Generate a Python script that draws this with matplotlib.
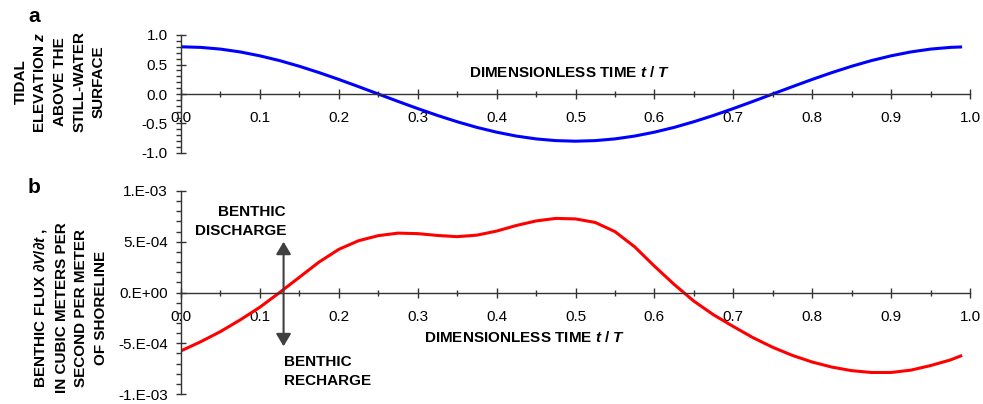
import matplotlib
matplotlib.use("Agg")
import matplotlib.pyplot as plt
from matplotlib.ticker import FixedLocator, FixedFormatter, MultipleLocator

plt.rcParams["font.family"] = ["Liberation Sans", "DejaVu Sans"]
plt.rcParams["mathtext.fontset"] = "custom"
plt.rcParams["mathtext.it"] = "Liberation Sans:italic:bold"
plt.rcParams["mathtext.rm"] = "Liberation Sans:bold"
plt.rcParams["mathtext.bf"] = "Liberation Sans:bold"

# ---- data ----
time_a = [0.0, 0.025, 0.05, 0.075, 0.1, 0.125, 0.15, 0.175, 0.2, 0.225, 0.25,
          0.275, 0.3, 0.325, 0.35, 0.375, 0.4, 0.425, 0.45, 0.475, 0.5,
          0.525, 0.55, 0.575, 0.6, 0.625, 0.65, 0.675, 0.7, 0.725, 0.75,
          0.775, 0.8, 0.825, 0.85, 0.875, 0.9, 0.925, 0.95, 0.975, 0.99]
tidal_z = [0.800, 0.790, 0.761, 0.713, 0.647, 0.566, 0.470, 0.363, 0.247, 0.125, 0.0,
           -0.125, -0.247, -0.363, -0.470, -0.566, -0.647, -0.713, -0.761, -0.790, -0.800,
           -0.790, -0.761, -0.713, -0.647, -0.566, -0.470, -0.363, -0.247, -0.125, 0.0,
           0.125, 0.247, 0.363, 0.470, 0.566, 0.647, 0.713, 0.761, 0.790, 0.798]

time_b = time_a
benthic_flux = [-5.75e-4, -4.85e-4, -3.85e-4, -2.7e-4, -1.45e-4, 0.0, 1.5e-4, 3.0e-4,
                4.25e-4, 5.1e-4, 5.6e-4, 5.85e-4, 5.8e-4, 5.62e-4, 5.5e-4, 5.65e-4,
                6.05e-4, 6.6e-4, 7.05e-4, 7.3e-4, 7.25e-4, 6.9e-4, 6.0e-4, 4.5e-4,
                2.6e-4, 0.8e-4, -0.85e-4, -2.2e-4, -3.35e-4, -4.45e-4, -5.4e-4,
                -6.2e-4, -6.85e-4, -7.35e-4, -7.7e-4, -7.88e-4, -7.88e-4, -7.65e-4,
                -7.2e-4, -6.65e-4, -6.2e-4]

x_ticks = [0.0, 0.1, 0.2, 0.3, 0.4, 0.5, 0.6, 0.7, 0.8, 0.9, 1.0]
x_tick_labels = ["0.0", "0.1", "0.2", "0.3", "0.4", "0.5", "0.6", "0.7", "0.8", "0.9", "1.0"]
ya_ticks = [-1.0, -0.5, 0.0, 0.5, 1.0]
ya_tick_labels = ["-1.0", "-0.5", "0.0", "0.5", "1.0"]
yb_ticks = [-1e-3, -5e-4, 0.0, 5e-4, 1e-3]
yb_tick_labels = ["-1.E-03", "-5.E-04", "0.E+00", "5.E-04", "1.E-03"]

AXIS_COLOR = "#333333"


def style_axis(ax, yticks, ylabels, yminor):
    for s in ["top", "right"]:
        ax.spines[s].set_visible(False)
    for s in ["left", "bottom"]:
        ax.spines[s].set_position(("data", 0))
        ax.spines[s].set_color(AXIS_COLOR)
        ax.spines[s].set_linewidth(1.0)
    ax.set_xlim(0, 1)
    ax.set_ylim(yticks[0], yticks[-1])
    ax.xaxis.set_major_locator(FixedLocator(x_ticks))
    ax.xaxis.set_major_formatter(FixedFormatter(x_tick_labels))
    ax.xaxis.set_minor_locator(MultipleLocator(0.05))
    ax.yaxis.set_major_locator(FixedLocator(yticks))
    ax.yaxis.set_major_formatter(FixedFormatter(ylabels))
    ax.yaxis.set_minor_locator(MultipleLocator(yminor))
    ax.tick_params(axis="x", which="major", direction="inout", length=7, width=1,
                   pad=9, labelsize=11, color=AXIS_COLOR)
    ax.tick_params(axis="x", which="minor", direction="inout", length=4, width=1,
                   color=AXIS_COLOR)
    ax.tick_params(axis="y", which="major", direction="inout", length=7, width=1,
                   pad=6, labelsize=11, color=AXIS_COLOR)
    ax.tick_params(axis="y", which="minor", direction="out", length=3.5, width=1,
                   color=AXIS_COLOR)
    ax.patch.set_alpha(0)


fig = plt.figure(figsize=(9.83, 4.04), dpi=100)

# panel a
ax_a = fig.add_axes([181 / 983, 1 - 153 / 404, 789 / 983, 118 / 404])
style_axis(ax_a, ya_ticks, ya_tick_labels, 0.1)
ax_a.plot(time_a, tidal_z, color="#0000ff", lw=2.2, solid_capstyle="butt",
          solid_joinstyle="round")
ax_a.text(0.493, 0.356, "DIMENSIONLESS TIME $t$ / $T$", ha="center", va="center",
          fontsize=11, fontweight="bold")

# panel b
ax_b = fig.add_axes([181 / 983, 1 - 394 / 404, 789 / 983, 203 / 404])
style_axis(ax_b, yb_ticks, yb_tick_labels, 1e-4)
ax_b.plot(time_b, benthic_flux, color="#ff0000", lw=2.2, solid_capstyle="butt",
          solid_joinstyle="round")
ax_b.text(0.436, -4.45e-4, "DIMENSIONLESS TIME $t$ / $T$", ha="center", va="center",
          fontsize=11, fontweight="bold")

ax_b.annotate("", xy=(0.13, 5e-4), xytext=(0.13, -5.3e-4),
              arrowprops=dict(arrowstyle="<|-|>,head_length=0.5,head_width=0.3",
                              color="#404040", lw=1.5, mutation_scale=15,
                              shrinkA=0, shrinkB=0))
ax_b.text(0.133, 6.98e-4, "BENTHIC\nDISCHARGE", ha="right", va="center",
          multialignment="right", fontsize=11, fontweight="bold", linespacing=1.4)
ax_b.text(0.13, -7.77e-4, "BENTHIC\nRECHARGE", ha="left", va="center",
          multialignment="left", fontsize=11, fontweight="bold", linespacing=1.4)

# panel letters and y labels
fig.text(28 / 983, 1 - 22 / 404, "a", fontsize=15, fontweight="bold", va="baseline")
fig.text(28 / 983, 1 - 193 / 404, "b", fontsize=15, fontweight="bold", va="baseline")

fig.text(60 / 983, 1 - 82 / 404,
         "TIDAL\nELEVATION $z$\nABOVE THE\nSTILL-WATER\nSURFACE",
         rotation=90, ha="center", va="center", multialignment="center",
         fontsize=11, fontweight="bold", linespacing=1.5)
fig.text(70 / 983, 1 - 308 / 404,
         "BENTHIC FLUX $\\partial V/\\partial t$ ,\nIN CUBIC METERS PER\nSECOND PER METER\nOF SHORELINE",
         rotation=90, ha="center", va="center", multialignment="center",
         fontsize=11, fontweight="bold", linespacing=1.5)

fig.savefig("out.png", dpi=100)
